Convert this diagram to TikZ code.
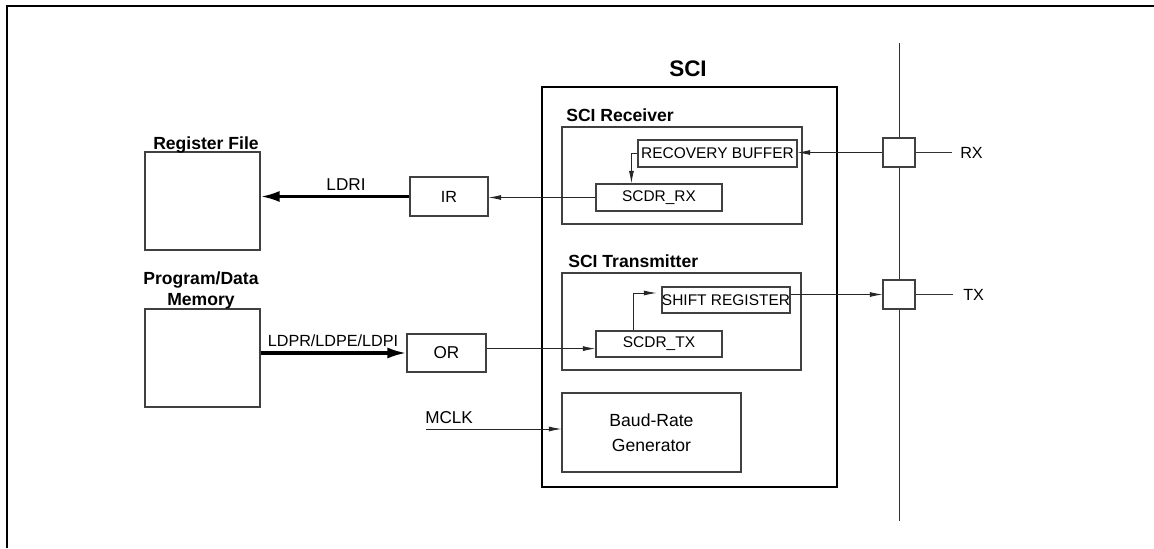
\documentclass[tikz,border=0pt]{standalone}
\usepackage{fontspec}
\setmainfont{Liberation Sans}
\usetikzlibrary{arrows.meta}

\begin{document}
\begin{tikzpicture}[blk/.style = {draw=black!75, line width=0.8pt, inner sep=0pt, font=\fontsize{11}{13}\selectfont},
  lbl/.style = {inner sep=0pt, font=\fontsize{11.5}{14}\selectfont},
  big/.style = {font=\fontsize{12.2}{15}\selectfont},
  hdr/.style = {inner sep=0pt, font=\fontsize{12.5}{15}\selectfont\bfseries},
  iobox/.style = {draw=black!75, line width=0.8pt, minimum width=0.8cm, minimum height=0.725cm},
  wire/.style = {line width=0.6pt, black!80},
  sig/.style = {line width=0.6pt, black!85, -{Latex[length=9pt,width=3.6pt]}},
  busarrow/.style = {line width=2.2pt, -{Latex[length=13.5pt,width=7.8pt]}}]
\useasboundingbox (0,0) rectangle (28.85,13.7);
\draw [line width=1.4pt] (0.175,0) -- (0.175,13.54) -- (28.85,13.54);
\node[blk, minimum width=2.875cm, minimum height=2.45cm] (regfile) at (5.0625,8.675) {}; \node[hdr, anchor=base] (regfilelbl) at (5.15,9.95) {Register File};
\node[blk, minimum width=2.875cm, minimum height=2.45cm] (pdm) at (5.0625,4.75) {}; \node[hdr, align=center] (pdmlbl) at (5.025,6.44) {Program/Data\\Memory};
\node[blk, lbl, minimum width=1.95cm, minimum height=0.975cm] (ireg) at (11.225,8.7875) {IR}; \node[lbl, big, anchor=base] (ldri) at (8.65,8.925) {LDRI};
\node[blk, big, minimum width=1.975cm, minimum height=0.95cm] (oreg) at (11.1625,4.875) {OR}; \node[lbl, anchor=base] (ldpr) at (8.325,5.05) {LDPR/LDPE/LDPI};
\node[hdr, font=\fontsize{16}{19}\selectfont\bfseries, anchor=base] (scilbl) at (17.2,11.775) {SCI};
\node[draw, line width=1.4pt, minimum width=7.375cm, minimum height=10cm] (sci) at (17.2375,6.525) {};
\node[hdr, anchor=base west] (recvlbl) at (14.15,10.65) {SCI Receiver}; \node[blk, minimum width=6cm, minimum height=2.425cm] (recv) at (17.05,9.3125) {};
\node[blk, minimum width=3.975cm, minimum height=0.675cm] (rb) at (17.9375,9.8625) {RECOVERY BUFFER}; \node[blk, minimum width=3.15cm, minimum height=0.675cm] (scdrrx) at (16.475,8.7625) {SCDR\_RX};
\node[hdr, anchor=base west] (xmitlbl) at (14.2,7.025) {SCI Transmitter}; \node[blk, minimum width=5.975cm, minimum height=2.425cm] (xmit) at (17.0375,5.6625) {};
\node[blk, minimum width=3.15cm, minimum height=0.65cm] (shreg) at (18.15,6.2) {SHIFT REGISTER}; \node[blk, minimum width=3.15cm, minimum height=0.65cm] (scdrtx) at (16.475,5.1) {SCDR\_TX};
\node[blk, align=center, font=\fontsize{12.5}{17.8}\selectfont, minimum width=4.475cm, minimum height=1.975cm] (baud) at (16.2875,2.8875) {Baud-Rate\\Generator};
\node[lbl, big, anchor=base west] (mclklbl) at (10.625,3.125) {MCLK}; \coordinate (mclk) at (10.65,2.975);
\node[iobox] (rxpin) at (22.475,9.8875) {}; \node[iobox] (txpin) at (22.475,6.3375) {};
\coordinate (bustop) at (22.475,12.625); \coordinate (busbot) at (22.475,0.675);
\node[lbl, anchor=west] (rx) at (24.0,9.8875) {RX}; \node[lbl, anchor=west] (tx) at (24.075,6.3375) {TX};
\draw[wire] (bustop) -- (rxpin.north) (rxpin.south) -- (txpin.north) (txpin.south) -- (busbot);
\draw[wire] (rxpin.east) -- ([xshift=-0.2cm]rx.west); \draw[wire] (txpin.east) -- ([xshift=-0.25cm]tx.west);
\draw[busarrow] (ireg.west) -- (ireg.west -| regfile.east); \draw[busarrow] (oreg.west -| pdm.east) -- (oreg.west);
\draw[sig] (scdrrx.west) -- (scdrrx.west -| ireg.east); \draw[sig] ([yshift=0.11cm]oreg.east) -- ([yshift=0.11cm]oreg.east -| scdrtx.west);
\draw[sig] (rxpin.west) -- (rxpin.west -| rb.east); \draw[sig] (rb.west) -| ([xshift=-0.15cm]rb.west |- scdrrx.north);
\draw[sig] ([xshift=-0.65cm]scdrtx.north) |- ([xshift=-0.125cm,yshift=0.175cm]shreg.west); \draw[sig] (txpin.west -| shreg.east) -- (txpin.west);
\draw[sig] (mclk) -- (mclk -| baud.west);
\end{tikzpicture}
\end{document}
